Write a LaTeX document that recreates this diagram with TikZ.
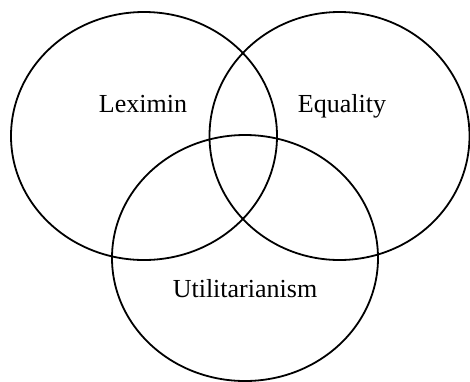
\documentclass[tikz,border=0pt]{standalone}
\usepackage{fontspec}
\setmainfont{Liberation Serif}
\begin{document}
\begin{tikzpicture}[x=1pt, y=-1pt, line width=1.8pt]
    \useasboundingbox (0,0) rectangle (470,381);
    \draw (144,136) ellipse [x radius=133, y radius=124];
    \draw (339.5,136) ellipse [x radius=130, y radius=124];
    \draw (245,258) ellipse [x radius=133, y radius=123];
    \node[anchor=base, font=\fontsize{26}{30}\selectfont] (leximin) at (143,112.7) {Leximin};
    \node[anchor=base, font=\fontsize{26}{30}\selectfont] (equality) at (342,112.7) {Equality};
    \node[anchor=base, font=\fontsize{26}{30}\selectfont] (util) at (245,297.7) {Utilitarianism};
  \end{tikzpicture}
\end{document}
